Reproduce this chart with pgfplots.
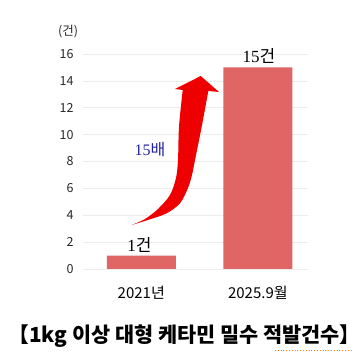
\documentclass[border=0pt]{standalone}
\usepackage{fontspec}
\usepackage{graphicx}
\usepackage{pgfplots}
\pgfplotsset{compat=1.18}
\setmainfont{Noto Sans CJK KR}
\newfontfamily\lserif{Liberation Serif}
\definecolor{barc}{RGB}{224,102,102}
\definecolor{navyt}{RGB}{35,35,160}
\definecolor{gridc}{RGB}{236,236,236}
\definecolor{tickc}{RGB}{40,40,40}
\definecolor{arrc}{RGB}{238,0,0}
\begin{document}
\begin{tikzpicture}[x=1pt,y=1pt]
\path[use as bounding box] (0,0) rectangle (363,363);
\begin{axis}[
  at={(83pt,94pt)}, anchor=south west, scale only axis,
  width=225pt, height=215pt,
  xmin=-0.5, xmax=1.43, ymin=0, ymax=16,
  ytick={0,2,...,16}, xtick={0,1}, xticklabels={2021년,2025.9월},
  axis line style={draw=none}, major tick style={draw=none},
  ymajorgrids, grid style={gridc, line width=0.7pt},
  /pgf/number format/assume math mode=true,
  yticklabel style={font=\fontsize{12.5}{14}\selectfont, text=tickc, anchor=east, xshift=-6pt},
  xticklabel style={font=\fontsize{15}{17}\selectfont, text=black, yshift=-9pt},
  ybar, bar width=69pt,
  clip=false,
]
\addplot[fill=barc, draw=none] coordinates {(0,1) (1,15)};
\end{axis}
% arrow
\fill[arrc] (131.7,138) -- plot[smooth] coordinates {(131.7,138) (150,143.7) (166.7,149.7) (180,159.7) (188,175) (192,188) (195,203) (201.7,236.3) (208.3,272)}
  -- (219,271) -- (200.7,287) -- (175,274) -- (182.7,273)
  -- plot[smooth] coordinates {(182.7,273) (179,236.3) (178,203) (176,185) (170,168) (158,154) (145,144) (131.7,138)} -- cycle;
\node[font=\fontsize{12.5}{14}\selectfont, text=tickc] at (68,331) {(건)};
\node[font=\fontsize{17}{19}\selectfont] at (259,307) {{\lserif 15}건};
\node[font=\fontsize{17}{19}\selectfont] at (139.5,118) {{\lserif 1}건};
\node[font=\fontsize{16}{18}\selectfont, text=navyt] at (150,213) {{\lserif 15}배};
\node[inner sep=0pt] at (184.5,27) {\resizebox{352pt}{!}{\fontsize{22}{24}\bfseries\selectfont 【1kg 이상 대형 케타민 밀수 적발건수】}};
\draw[orange, line width=0.8pt, dotted] (275,13) -- (353,13);
\end{tikzpicture}
\end{document}
